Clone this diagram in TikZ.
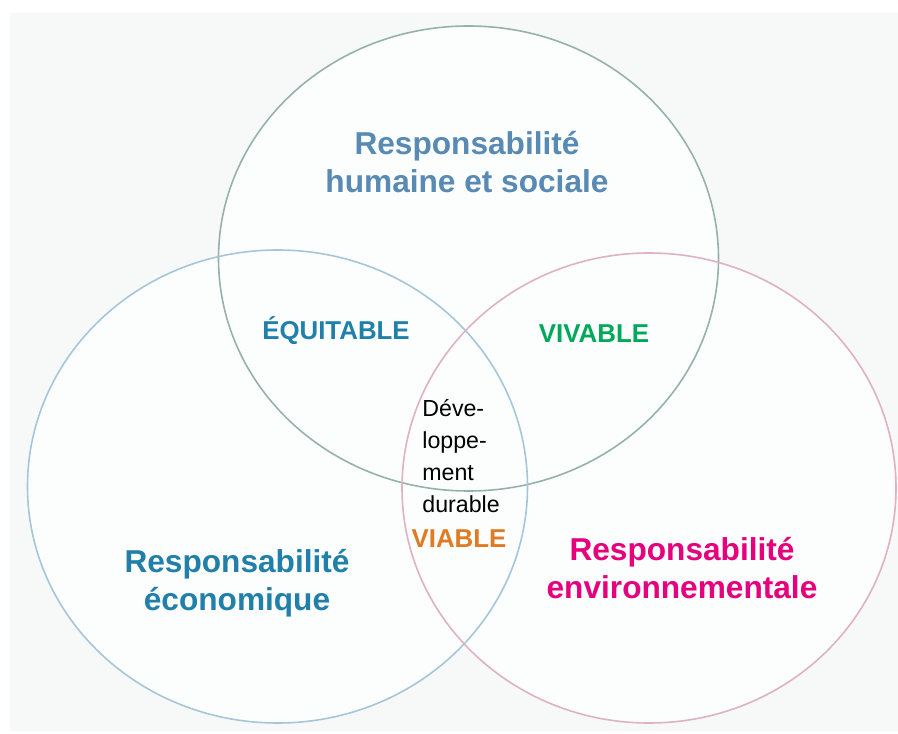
\documentclass[tikz,border=0pt]{standalone}
\usepackage{fontspec}
\setmainfont{Liberation Sans}
\usepackage{tikz}

\definecolor{fond}{RGB}{247,248,248}
\definecolor{fondCercle}{RGB}{252,253,253}
\definecolor{traitHum}{RGB}{150,176,174}
\definecolor{traitEco}{RGB}{165,198,216}
\definecolor{traitEnv}{RGB}{222,178,192}
\definecolor{bleuHum}{RGB}{88,138,180}
\definecolor{bleuEco}{RGB}{32,128,170}
\definecolor{vertViv}{RGB}{0,168,90}
\definecolor{orangeVia}{RGB}{224,123,36}
\definecolor{roseEnv}{RGB}{229,0,125}

\tikzset{
  cercle/.style={line width=0.9pt},
  titre/.style={font=\bfseries\fontsize{18}{21.6}\selectfont, align=center, inner sep=0pt},
  qualif/.style={font=\bfseries\fontsize{14.7}{18}\selectfont, anchor=base, inner sep=0pt},
}

\begin{document}
\begin{tikzpicture}
	\useasboundingbox (0,0) rectangle (17.96,14.66);
	%%%	Fond
	\fill[white] (0,0) rectangle (17.96,14.66);
	\fill[fond] (0.2,0.04) rectangle (17.96,14.4);
	\fill[fondCercle] (9.37,9.49) ellipse [x radius=5.0, y radius=4.65];
	\fill[fondCercle] (5.55,4.93) ellipse [x radius=5.0, y radius=4.73];
	\fill[fondCercle] (12.98,4.90) ellipse [x radius=4.94, y radius=4.70];
	
	%%%	Cercles
	\draw[cercle, traitHum] (9.37,9.49) ellipse [x radius=5.0, y radius=4.65];
	\draw[cercle, traitEco] (5.55,4.93) ellipse [x radius=5.0, y radius=4.73];
	\draw[cercle, traitEnv] (12.98,4.90) ellipse [x radius=4.94, y radius=4.70];
	
	%%%	Responsabilites
	\node[titre, bleuHum] (hum) at (9.34,11.42) {Responsabilit\'e\\humaine et sociale};
	\node[titre, bleuEco] (eco) at (4.74,3.00) {Responsabilit\'e\\\'economique};
	\node[titre, roseEnv] (env) at (13.64,3.29) {Responsabilit\'e\\environnementale};
	
	%%%	Intersections
	\node[qualif, bleuEco] (equi) at (6.72,7.87) {\'EQUITABLE};
	\node[qualif, vertViv] (viva) at (11.88,7.81) {VIVABLE};
	\node[qualif, orangeVia] (via) at (9.18,3.71) {VIABLE};
	
	% Centre
	\node[anchor=north west, inner sep=0pt, align=left,
	      font=\fontsize{13.2}{18.2}\selectfont] (dd) at (8.44,6.68)
	      {D\'eve-\\loppe-\\ment\\durable};
\end{tikzpicture}
\end{document}
